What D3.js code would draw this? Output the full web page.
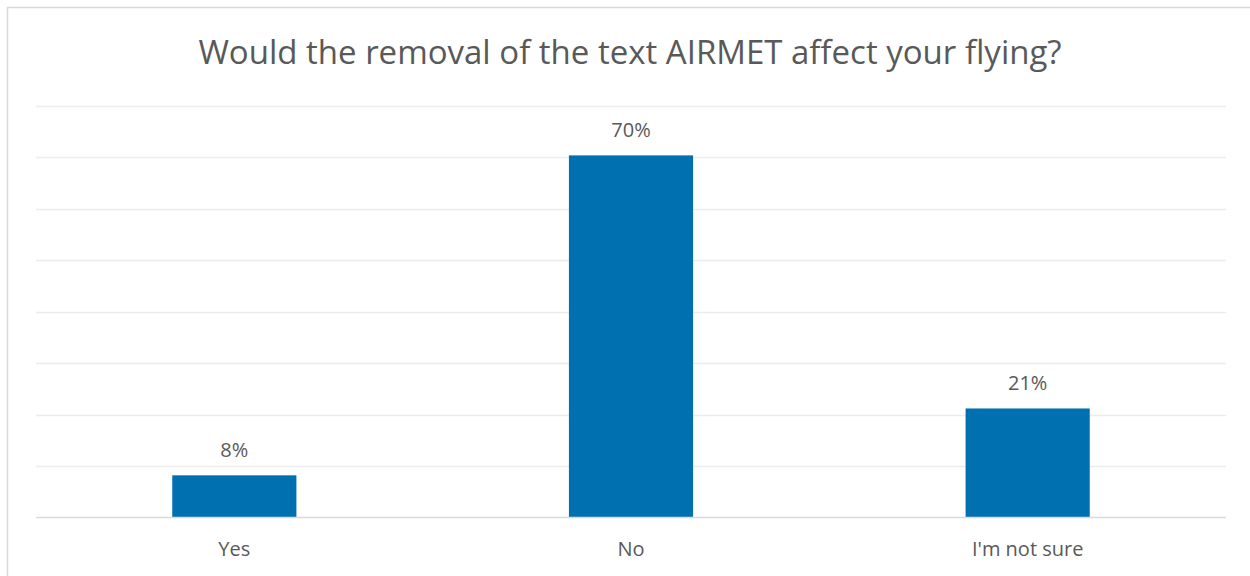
<!DOCTYPE html>
<html>
<head>
<meta charset="utf-8">
<script src="https://cdn.jsdelivr.net/npm/d3@7"></script>
<style>
  body { margin: 0; background: #fff; }
  text { font-family: "Open Sans", "Noto Sans", sans-serif; fill: #595959; }
</style>
</head>
<body>
<script>
// survey answers (percent)
var categories = ["Yes", "No", "I'm not sure"];
var values = [8.2, 70.4, 21.2];
var yTicks = [0, 10, 20, 30, 40, 50, 60, 70, 80];
var title = "Would the removal of the text AIRMET affect your flying?";

var width = 1250, height = 576;
var margin = {top: 106, right: 24, bottom: 58, left: 36};

var svg = d3.select("body")
            .append("svg")
            .attr("width", width)
            .attr("height", height);

// chart area border
svg.append("rect")
   .attr("x", 7.5)
   .attr("y", 7.5)
   .attr("width", width)
   .attr("height", height)
   .attr("fill", "none")
   .attr("stroke", "#d9d9d9")
   .attr("stroke-width", 1.5);

var x = d3.scaleBand()
          .domain(categories)
          .range([margin.left, width - margin.right])
          .paddingInner(0.687)
          .paddingOuter(0.3435);

var y = d3.scaleLinear()
          .domain([0, 80])
          .range([height - margin.bottom - 0.5, margin.top]);

// gridlines
svg.append("g")
   .selectAll("line")
   .data(yTicks.slice(1))
   .enter().append("line")
   .attr("x1", margin.left)
   .attr("x2", width - margin.right)
   .attr("y1", function(d) { return Math.round(y(d)) + 0.5; })
   .attr("y2", function(d) { return Math.round(y(d)) + 0.5; })
   .attr("stroke", "#ececec")
   .attr("stroke-width", 1.5);

// bars
svg.append("g")
   .selectAll("rect")
   .data(values)
   .enter().append("rect")
   .attr("x", function(d, i) { return x(categories[i]); })
   .attr("y", function(d) { return y(d); })
   .attr("width", x.bandwidth())
   .attr("height", function(d) { return y(0) - y(d); })
   .attr("fill", "#0070b0");

// baseline
svg.append("line")
   .attr("x1", margin.left)
   .attr("x2", width - margin.right)
   .attr("y1", y(0))
   .attr("y2", y(0))
   .attr("stroke", "#d9d9d9")
   .attr("stroke-width", 1.5);

// value labels
svg.append("g")
   .selectAll("text")
   .data(values)
   .enter().append("text")
   .attr("x", function(d, i) { return x(categories[i]) + x.bandwidth() / 2; })
   .attr("y", function(d) { return y(d) - 18; })
   .attr("text-anchor", "middle")
   .style("font-size", "20px")
   .text(function(d) { return Math.round(d) + "%"; });

// x axis labels
var xAxis = d3.axisBottom(x).tickSize(0).tickPadding(24);
var gx = svg.append("g")
            .attr("transform", "translate(0," + y(0) + ")")
            .call(xAxis);
gx.select(".domain").remove();
gx.selectAll("text")
  .style("font-size", "20px")
  .style("fill", "#595959")
  .style("font-family", "'Open Sans', sans-serif");

// title
svg.append("text")
   .attr("x", 630)
   .attr("y", 64)
   .attr("text-anchor", "middle")
   .style("font-size", "33px")
   .text(title);
</script>
</body>
</html>
